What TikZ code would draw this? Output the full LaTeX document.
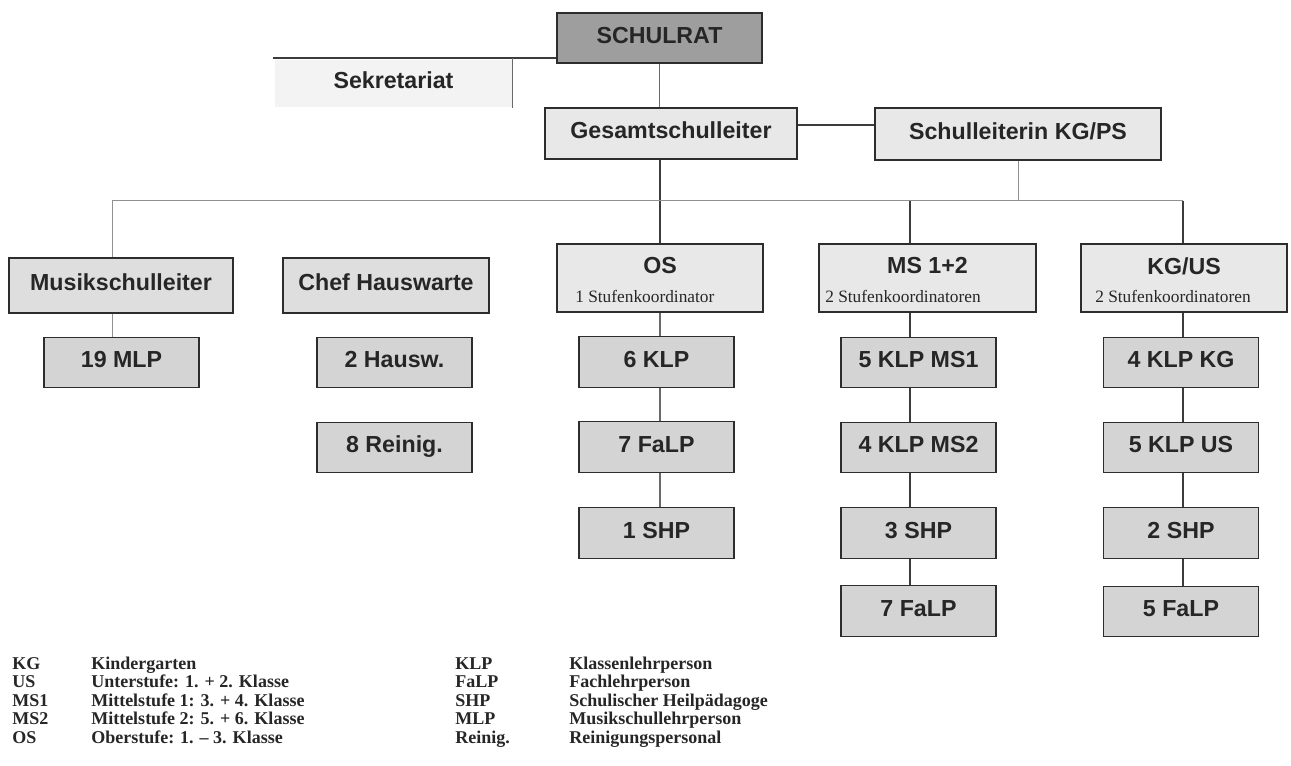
\documentclass[tikz,border=0pt]{standalone}
\usepackage{fontspec}
\setmainfont{Liberation Serif}
\setsansfont{Liberation Sans}

\definecolor{rahmen}{RGB}{45,45,45}
\definecolor{liniedunkel}{RGB}{60,60,60}
\definecolor{liniemittel}{RGB}{105,105,105}
\definecolor{liniehell}{RGB}{145,145,145}
\definecolor{fuellrat}{RGB}{158,158,158}
\definecolor{fuellleitung}{RGB}{232,232,232}
\definecolor{fuellsek}{RGB}{243,243,243}
\definecolor{fuellchef}{RGB}{222,222,222}
\definecolor{fuellteam}{RGB}{212,212,212}

\tikzset{
  orgbox/.style={draw=rahmen, line width=0.9pt, inner sep=0pt, text=black!85,
    font=\sffamily\bfseries\fontsize{17.4}{20}\selectfont,
    text height=12.5pt, text depth=5pt},
  teambox/.style={orgbox, fill=fuellteam, minimum width=116.25pt, minimum height=38pt},
  stufenbox/.style={orgbox, fill=fuellleitung, minimum height=51pt},
  stufentitel/.style={inner sep=0pt, text=black!85, font=\sffamily\bfseries\fontsize{17.4}{20}\selectfont},
  stufentext/.style={inner sep=0pt, anchor=base west, text=black!85, font=\fontsize{13}{15}\selectfont},
  linie/.style={draw=liniedunkel, line width=0.8pt},
  liniegrau/.style={draw=liniehell, line width=0.7pt},
  liniemitte/.style={draw=liniemittel, line width=0.8pt},
  legkurz/.style={anchor=base west, inner sep=0pt, text=black!85, font=\bfseries\fontsize{13.5}{15}\selectfont},
  leglang/.style={legkurz}
}

\begin{document}
\begin{tikzpicture}[x=0.75pt,y=0.75pt,yscale=-1,xscale=1]
	\useasboundingbox (0,0) rectangle (1291,765);

	% Leitung
	\node (schulrat) at (659.5,38) [orgbox, fill=fuellrat, minimum width=153.75pt, minimum height=37.5pt] {SCHULRAT};
	\node (sekretariat) at (393.5,83.5) [orgbox, draw=none, fill=fuellsek, minimum width=177.75pt, minimum height=35.25pt] {Sekretariat};
	\node (gesamt) at (671,133.5) [orgbox, fill=fuellleitung, minimum width=189pt, minimum height=38.25pt] {Gesamtschulleiter};
	\node (kgps) at (1018,134) [orgbox, fill=fuellleitung, minimum width=214.5pt, minimum height=39pt] {Schulleiterin KG/PS};

	% zweite Ebene
	\node (musik) at (121,285.5) [orgbox, fill=fuellchef, minimum width=168pt, minimum height=41.25pt] {Musikschulleiter};
	\node (chef) at (386,285.5) [orgbox, fill=fuellchef, minimum width=154.5pt, minimum height=41.25pt] {Chef Hauswarte};
	\node (os) at (660,278) [stufenbox, minimum width=154.5pt] {};
	\node (ms) at (927.5,278) [stufenbox, minimum width=162.75pt] {};
	\node (kgus) at (1184,278) [stufenbox, minimum width=154.5pt] {};

	% Text Node
	\node (ostitel) at (660,266) [stufentitel] {OS};
	\node (ostext) at (575,302) [stufentext] {1 Stufenkoordinator};
	\node (mstitel) at (927.5,266) [stufentitel] {MS 1+2};
	\node (mstext) at (825,302) [stufentext] {2 Stufenkoordinatoren};
	\node (kgustitel) at (1184,266) [stufentitel] {KG/US};
	\node (kgustext) at (1095,302) [stufentext] {2 Stufenkoordinatoren};

	% Teams
	\node (mlp) at (121.5,362.5) [teambox] {19 MLP};
	\node (hausw) at (394.5,362.5) [teambox] {2 Hausw.};
	\node (reinig) at (394.5,447.5) [teambox] {8 Reinig.};
	\node (klpos) at (656.5,362) [teambox] {6 KLP};
	\node (falpos) at (656.5,447) [teambox] {7 FaLP};
	\node (shpos) at (656.5,533) [teambox] {1 SHP};
	\node (klpmsa) at (918.5,362.5) [teambox] {5 KLP MS1};
	\node (klpmsb) at (918.5,447.5) [teambox] {4 KLP MS2};
	\node (shpms) at (918.5,533) [teambox] {3 SHP};
	\node (falpms) at (918.5,611) [teambox] {7 FaLP};
	\node (klpkg) at (1181,362.5) [teambox] {4 KLP KG};
	\node (klpus) at (1181,447.5) [teambox] {5 KLP US};
	\node (shpkg) at (1181,533) [teambox] {2 SHP};
	\node (falpkg) at (1181,611.5) [teambox] {5 FaLP};

	% Verbindungen oben
	\coordinate (sekende) at (273,58);
	\coordinate (bus) at (112,200.7);
	\coordinate (msachse) at (910,0);
	\coordinate (kgachse) at (1183,0);
	\draw [linie] (sekende) -- (sekende -| schulrat.west);
	\draw [liniemitte] (sekretariat.south east) -- (sekretariat.south east |- sekende);
	\draw [liniemitte] (schulrat.south) -- (schulrat.south |- gesamt.north);
	\draw [linie] ([yshift=-6.4pt]gesamt.east) -- ([yshift=-6.4pt]gesamt.east -| kgps.west);
	\draw [linie] (os.north |- gesamt.south) -- (os.north);
	\draw [liniegrau] (kgps.south) -- (kgps.south |- bus);

	% Verbindungen Stufen
	\draw [liniegrau] (bus) -- (bus -| kgachse);
	\draw [liniegrau] (bus) -- (bus |- musik.north);
	\draw [linie] (bus -| msachse) -- (ms.north -| msachse);
	\draw [linie] (bus -| kgachse) -- (kgus.north -| kgachse);
	\draw [liniegrau] (musik.south -| bus) -- (mlp.north -| bus);
	\draw [liniemitte] (os.south) -- (os.south |- klpos.north);
	\draw [liniemitte] (os.south |- klpos.south) -- (os.south |- falpos.north);
	\draw [liniemitte] (os.south |- falpos.south) -- (os.south |- shpos.north);
	\draw [linie] (ms.south -| msachse) -- (klpmsa.north -| msachse);
	\draw [linie] (klpmsa.south -| msachse) -- (klpmsb.north -| msachse);
	\draw [linie] (klpmsb.south -| msachse) -- (shpms.north -| msachse);
	\draw [linie] (shpms.south -| msachse) -- (falpms.north -| msachse);
	\draw [linie] (kgus.south -| kgachse) -- (klpkg.north -| kgachse);
	\draw [linie] (klpkg.south -| kgachse) -- (klpus.north -| kgachse);
	\draw [linie] (klpus.south -| kgachse) -- (shpkg.north -| kgachse);
	\draw [linie] (shpkg.south -| kgachse) -- (falpkg.north -| kgachse);

	% Legende links
	\node (legkg) at (12,669) [legkurz] {KG};
	\node (legkgtxt) at (91,669) [leglang] {Kindergarten};
	\node (legus) at (12,687.5) [legkurz] {US};
	\node (legustxt) at (91,687.5) [leglang] {Unterstufe: 1. + 2. Klasse};
	\node (legmsa) at (12,706) [legkurz] {MS1};
	\node (legmsatxt) at (91,706) [leglang] {Mittelstufe 1: 3. + 4. Klasse};
	\node (legmsb) at (12,724.5) [legkurz] {MS2};
	\node (legmsbtxt) at (91,724.5) [leglang] {Mittelstufe 2: 5. + 6. Klasse};
	\node (legos) at (12,743) [legkurz] {OS};
	\node (legostxt) at (91,743) [leglang] {Oberstufe: 1. – 3. Klasse};

	% Legende rechts
	\node (legklp) at (455,669) [legkurz] {KLP};
	\node (legklptxt) at (569,669) [leglang] {Klassenlehrperson};
	\node (legfalp) at (455,687.5) [legkurz] {FaLP};
	\node (legfalptxt) at (569,687.5) [leglang] {Fachlehrperson};
	\node (legshp) at (455,706) [legkurz] {SHP};
	\node (legshptxt) at (569,706) [leglang] {Schulischer Heilpädagoge};
	\node (legmlp) at (455,724.5) [legkurz] {MLP};
	\node (legmlptxt) at (569,724.5) [leglang] {Musikschullehrperson};
	\node (legrein) at (455,743) [legkurz] {Reinig.};
	\node (legreintxt) at (569,743) [leglang] {Reinigungspersonal};

\end{tikzpicture}
\end{document}
